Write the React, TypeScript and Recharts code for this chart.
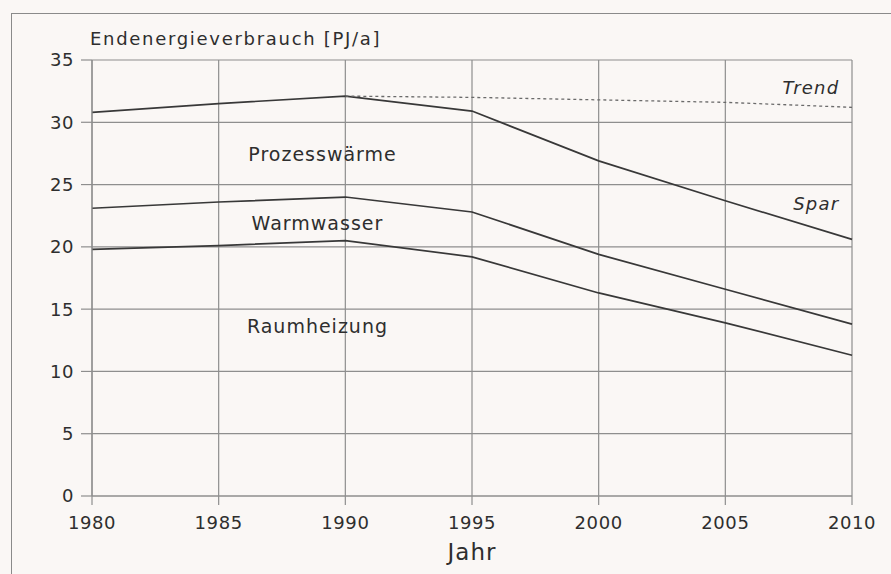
import React from 'react';
import { LineChart, Line, XAxis, YAxis, CartesianGrid, ReferenceDot, Label } from 'recharts';

const years = [1980, 1985, 1990, 1995, 2000, 2005, 2010];
const prozesswaerme = [30.8, 31.5, 32.1, 30.9, 26.9, 23.7, 20.6];
const warmwasser = [23.1, 23.6, 24.0, 22.8, 19.4, 16.6, 13.8];
const raumheizung = [19.8, 20.1, 20.5, 19.2, 16.3, 13.9, 11.3];
const trend = [null, null, 32.1, 32.0, 31.8, 31.6, 31.2];

const xTicks = [1980, 1985, 1990, 1995, 2000, 2005, 2010];
const yTicks = [0, 5, 10, 15, 20, 25, 30, 35];

const annotations = [
  { text: 'Prozesswärme', x: 1989.1, y: 27.4, pos: 'center', italic: false },
  { text: 'Warmwasser', x: 1988.9, y: 21.9, pos: 'center', italic: false },
  { text: 'Raumheizung', x: 1988.9, y: 13.6, pos: 'center', italic: false },
  { text: 'Trend', x: 2009.5, y: 32.8, pos: 'left', italic: true },
  { text: 'Spar', x: 2009.5, y: 23.5, pos: 'left', italic: true },
];

const data = years.map((yr, i) => ({
  year: yr,
  prozess: prozesswaerme[i],
  warm: warmwasser[i],
  raum: raumheizung[i],
  trend: trend[i],
}));

const FONT = '"DejaVu Sans", Arial, sans-serif';
const TXT = '#2e2e2e';
const GRID = '#8e8e8e';
const LINE = '#383838';

export default function App() {
  return (
    <div style={{ position: 'absolute', left: 0, top: 0, width: 891, height: 574, background: '#faf7f5', overflow: 'hidden' }}>
      <div style={{ position: 'absolute', left: 11, top: 13, width: 900, height: 600, borderTop: '1.5px solid #8a8a8a', borderLeft: '1.5px solid #8a8a8a' }} />
      <div style={{ position: 'absolute', left: 0, top: 0 }}>
        <LineChart width={891} height={574} data={data} margin={{ top: 60, right: 39, bottom: 48, left: 32 }}>
          <CartesianGrid stroke={GRID} strokeWidth={1.2} horizontalValues={yTicks} verticalValues={xTicks} />
          <XAxis
            dataKey="year"
            type="number"
            domain={[1980, 2010]}
            ticks={xTicks}
            height={30}
            axisLine={{ stroke: GRID, strokeWidth: 1.2 }}
            tickLine={{ stroke: GRID, strokeWidth: 1.2 }}
            tickSize={9}
            tickMargin={11}
            tick={{ fill: TXT, fontSize: 18, fontFamily: FONT, letterSpacing: 0.6 }}
          >
            <Label value="Jahr" position="bottom" offset={18} fill={TXT} fontSize={23} fontFamily={FONT} letterSpacing={1} />
          </XAxis>
          <YAxis
            type="number"
            domain={[0, 35]}
            ticks={yTicks}
            width={60}
            axisLine={{ stroke: GRID, strokeWidth: 1.2 }}
            tickLine={{ stroke: GRID, strokeWidth: 1.2 }}
            tickSize={11}
            tickMargin={7}
            tick={{ fill: TXT, fontSize: 18, fontFamily: FONT, letterSpacing: 0.6 }}
          />
          <Line dataKey="prozess" stroke={LINE} strokeWidth={1.7} dot={false} isAnimationActive={false} type="linear" />
          <Line dataKey="warm" stroke={LINE} strokeWidth={1.7} dot={false} isAnimationActive={false} type="linear" />
          <Line dataKey="raum" stroke={LINE} strokeWidth={1.7} dot={false} isAnimationActive={false} type="linear" />
          <Line dataKey="trend" stroke="#6a6a6a" strokeWidth={1.3} strokeDasharray="3 3" dot={false} isAnimationActive={false} type="linear" connectNulls />
          <ReferenceDot
            x={1980}
            y={36.7}
            r={0}
            ifOverflow="visible"
            fill="none"
            stroke="none"
            label={{ value: 'Endenergieverbrauch [PJ/a]', position: 'right', offset: -2, fill: TXT, fontSize: 18, fontFamily: FONT, letterSpacing: 1.7 }}
          />
          {annotations.map((a) => (
            <ReferenceDot
              key={a.text}
              x={a.x}
              y={a.y}
              r={0}
              fill="none"
              stroke="none"
              label={{
                value: a.text,
                position: a.pos,
                offset: 0,
                fill: TXT,
                fontSize: a.italic ? 18 : 19,
                fontStyle: a.italic ? 'italic' : 'normal',
                fontFamily: FONT,
                letterSpacing: a.italic ? 1.2 : 1,
              }}
            />
          ))}
        </LineChart>
      </div>
    </div>
  );
}
